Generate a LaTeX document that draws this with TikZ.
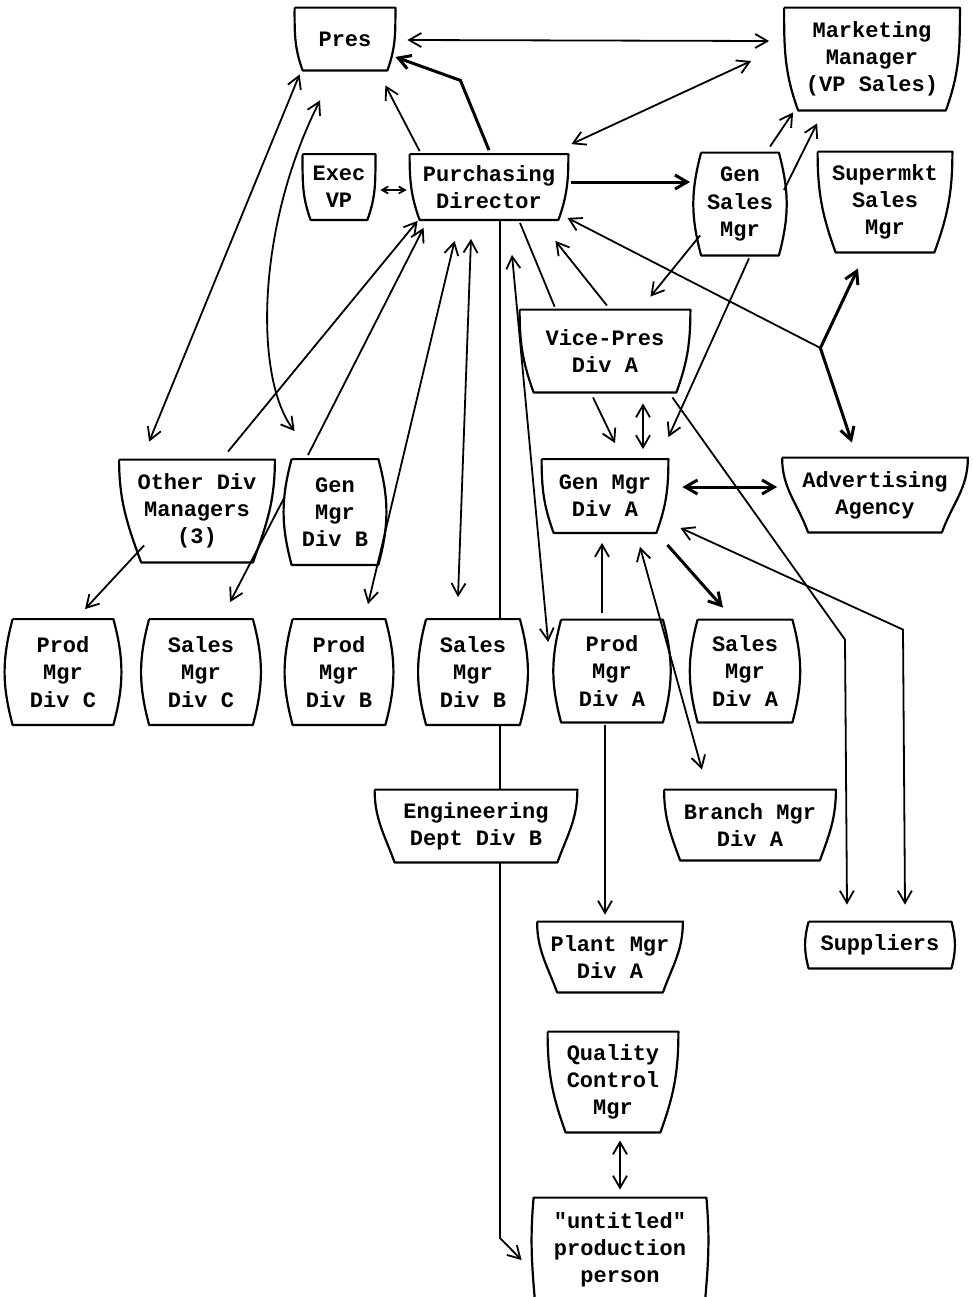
\documentclass[tikz,border=0pt]{standalone}
\usepackage{fontspec}
\newfontfamily\tw{Liberation Mono}
\usetikzlibrary{arrows.meta,calc,backgrounds}
\tikzset{
  bx/.style={fill=white, inner sep=0pt, align=center, font=\tw\bfseries\fontsize{11}{13.6}\selectfont},
  boxline/.style={line width=1.1pt, line join=round},
  con/.style={line width=0.9pt},
  thickcon/.style={line width=1.5pt},
  smalltips/.style={{Straight Barb[angle=60:3.5pt]}-{Straight Barb[angle=60:3.5pt]}},
}
\newcommand\cupbox[2][10]{\draw[boxline] (#2.north west) -- (#2.north east) to[out=-90,in=70] ($(#2.south east)+(-#1,0)$) -- ($(#2.south west)+(#1,0)$) to[out=110,in=-90] (#2.north west);}
\newcommand\barrelbox[2][4]{\draw[boxline] ($(#2.north west)+(#1,0)$) -- ($(#2.north east)+(-#1,0)$) to[out=-75,in=75] ($(#2.south east)+(-#1,0)$) -- ($(#2.south west)+(#1,0)$) to[out=105,in=-105] ($(#2.north west)+(#1,0)$);}
\begin{document}
\begin{tikzpicture}[x=0.5pt,y=-0.5pt,>={Straight Barb[angle=60:7pt]}]
\useasboundingbox (0,0) rectangle (973,1297);
% nodes
\node[bx,minimum width=50pt,minimum height=31pt] (pres) at (345,39) {Pres};
\node[bx,minimum width=87.5pt,minimum height=51pt] (mm) at (872,59) {Marketing\\Manager\\(VP Sales)};
\node[bx,minimum width=36pt,minimum height=32.5pt] (evp) at (339,187) {Exec\\VP};
\node[bx,minimum width=79pt,minimum height=32.5pt] (pd) at (489,187) {Purchasing\\Director};
\node[bx,minimum width=42.5pt,minimum height=51pt] (gsm) at (740,204) {Gen\\Sales\\Mgr};
\node[bx,minimum width=67pt,minimum height=50pt] (smk) at (885,202) {Supermkt\\Sales\\Mgr};
\node[bx,minimum width=85pt,minimum height=41pt] (vpa) at (605,351) {Vice-Pres\\Div A};
\node[bx,minimum width=77.5pt,minimum height=51pt] (odm) at (197,511) {Other Div\\Managers\\(3)};
\node[bx,minimum width=47pt,minimum height=52.5pt] (gmb) at (335,512) {Gen\\Mgr\\Div B};
\node[bx,minimum width=63pt,minimum height=36.5pt] (gma) at (605,496) {Gen Mgr\\Div A};
\node[bx,minimum width=92.5pt,minimum height=37pt] (adv) at (875,495) {Advertising\\Agency};
\node[bx,minimum width=55pt,minimum height=52.5pt] (pmc) at (63,672) {Prod\\Mgr\\Div C};
\node[bx,minimum width=56.5pt,minimum height=52.5pt] (smc) at (201,672) {Sales\\Mgr\\Div C};
\node[bx,minimum width=51pt,minimum height=52.5pt] (pmb) at (339,672) {Prod\\Mgr\\Div B};
\node[bx,minimum width=51.5pt,minimum height=52.5pt] (smb) at (473,672) {Sales\\Mgr\\Div B};
\node[bx,minimum width=55.5pt,minimum height=51pt] (pma) at (612,671) {Prod\\Mgr\\Div A};
\node[bx,minimum width=52pt,minimum height=51pt] (sma) at (745,671) {Sales\\Mgr\\Div A};
\node[bx,minimum width=101pt,minimum height=36pt] (eng) at (476,826) {Engineering\\Dept Div B};
\node[bx,minimum width=85.5pt,minimum height=35pt] (bma) at (750,825) {Branch Mgr\\Div A};
\node[bx,minimum width=75pt,minimum height=23pt] (sup) at (880,945) {Suppliers};
\node[bx,minimum width=72.5pt,minimum height=35pt] (plm) at (610,957) {Plant Mgr\\Div A};
\node[bx,minimum width=65pt,minimum height=50pt] (qc) at (613,1082) {Quality\\Control\\Mgr};
\node[bx,minimum width=90pt,minimum height=52pt] (utp) at (620,1250) {"untitled"\\production\\person};
% outlines
\cupbox[8]{pres}
\cupbox[14]{mm}
\cupbox[8]{evp}
\cupbox[10]{pd}
\barrelbox[4]{gsm}
\cupbox[18]{smk}
\cupbox[14]{vpa}
\cupbox[22]{odm}
\barrelbox[4]{gmb}
\cupbox[12]{gma}
\cupbox[26]{adv}
\barrelbox[5]{pmc}
\barrelbox[5]{smc}
\barrelbox[5]{pmb}
\barrelbox[5]{smb}
\barrelbox[5]{pma}
\barrelbox[5]{sma}
\cupbox[20]{eng}
\cupbox[16]{bma}
\barrelbox[4]{sup}
\cupbox[20]{plm}
\cupbox[18]{qc}
\draw[boxline] ($(utp.south west)+(6,6)$) to[out=95,in=-95] ($(utp.north west)+(4,0)$) -- ($(utp.north east)+(-4,0)$) to[out=-85,in=85] ($(utp.south east)+(-6,6)$);
% long line behind boxes
\coordinate (pdb) at ($(pd.south)+(11,0)$);
\coordinate (u1) at ($(utp.west)+(0,-12)$);
\begin{scope}[on background layer]
\draw[con,->] (pdb) -- (pdb |- u1) -- ($(utp.west)+(-8,10)$);
\end{scope}
% connectors
\draw[con,<->] ($(pres.east)+(12,1)$) -- ($(mm.west)+(-15,-18)$);
\draw[con,->] ($(pd.north west)+(10,-3)$) -- ($(pres.south east)+(-10,15)$);
\coordinate (pb) at ($(pres.south east)+(65,10)$);
\draw[thickcon,->] ($(pd.north)+(0,-4)$) -- (pb) -- ($(pres.east)+(0,18)$);
\draw[con,<->] ($(pd.north east)+(3,-10)$) -- ($(mm.west)+(-33,2)$);
\draw[con,smalltips] ($(evp.east)+(5,3)$) -- ($(pd.west)+(-3,3)$);
\draw[thickcon,->] ($(pd.east)+(3,-5)$) -- ($(gsm.west)+(-7,-22)$);
\draw[con,<->] ($(pres.south west)+(5,4)$) -- ($(odm.north west)+(30,-18)$);
\draw[con,<->] ($(pres.south)+(-25,30)$) .. controls (255,230) and (255,380) .. ($(gmb.north west)+(7,-28)$);
\draw[con,->] ($(odm.north)+(31,-8)$) -- ($(pd.south west)+(8,1)$);
\draw[con,->] ($(gmb.north)+(-27,-4)$) -- ($(pd.south west)+(14,8)$);
\draw[con,<->] ($(pd.south west)+(45,21)$) -- ($(pmb.north)+(29,-15)$);
\draw[con,<->] ($(pd.south)+(-18,19)$) -- ($(smb.north)+(-15,-22)$);
\draw[con,<->] ($(pd.south)+(23,35)$) -- ($(pma.west)+(-8,-29)$);
\draw[con] ($(pd.south)+(31,3)$) -- ($(vpa.north west)+(35,-3)$);
\draw[con,->] ($(vpa.north)+(2,-4)$) -- ($(pd.south east)+(-13,21)$);
\coordinate (J) at ($(vpa.east)+(130,-3)$);
\draw[con,->] (J) -- ($(pd.south east)+(-1,-2)$);
\draw[thickcon,->] (J) -- ($(smk.south)+(-27,16)$);
\draw[thickcon,->] (J) -- ($(adv.north)+(-23,-15)$);
\draw[con,->] ($(gsm.north)+(30,-6)$) -- ($(mm.south west)+(9,2)$);
\draw[con,->] ($(gsm.east)+(1,-14)$) -- ($(mm.south west)+(33,13)$);
\draw[con,->] ($(gsm.south west)+(3,-20)$) -- ($(vpa.north east)+(-40,-13)$);
\draw[con,->] ($(gsm.south)+(9,3)$) -- ($(gma.north east)+(0,-22)$);
\draw[con,->] ($(vpa.south)+(-12,5)$) -- ($(gma.north)+(10,-16)$);
\draw[con,<->] ($(vpa.south)+(38,11)$) -- ($(gma.north)+(38,-10)$);
\coordinate (b1) at ($(sup.north)+(-35,-282)$);
\draw[con,->] ($(vpa.south east)+(-18,5)$) -- (b1) -- ($(sup.north)+(-33,-17)$);
\coordinate (b2) at ($(sup.north)+(23,-292)$);
\draw[con,<->] ($(gma.south east)+(12,-5)$) -- (b2) -- ($(sup.north)+(25,-17)$);
\draw[thickcon,<->] ($(gma.east)+(14,-9)$) -- ($(adv.west)+(-5,-8)$);
\draw[con,->] ($(pma.north)+(-10,-7)$) -- ($(gma.south)+(-3,10)$);
\draw[con,<->] ($(gma.south)+(35,14)$) -- ($(bma.north)+(-48,-20)$);
\draw[thickcon,->] ($(gma.south east)+(-1,12)$) -- ($(sma.north)+(-22,-12)$);
\draw[con,->] ($(pma.south)+(-7,3)$) -- ($(plm.north)+(-5,-7)$);
\draw[con,<->] ($(qc.south)+(7,8)$) -- ($(utp.north)+(0,-8)$);
\draw[con,->] ($(odm.south west)+(25,-17)$) -- ($(pmc.north)+(22,-10)$);
\draw[con,->] ($(gmb.west)+(-3,-15)$) -- ($(smc.north)+(29,-17)$);
\end{tikzpicture}
\end{document}
